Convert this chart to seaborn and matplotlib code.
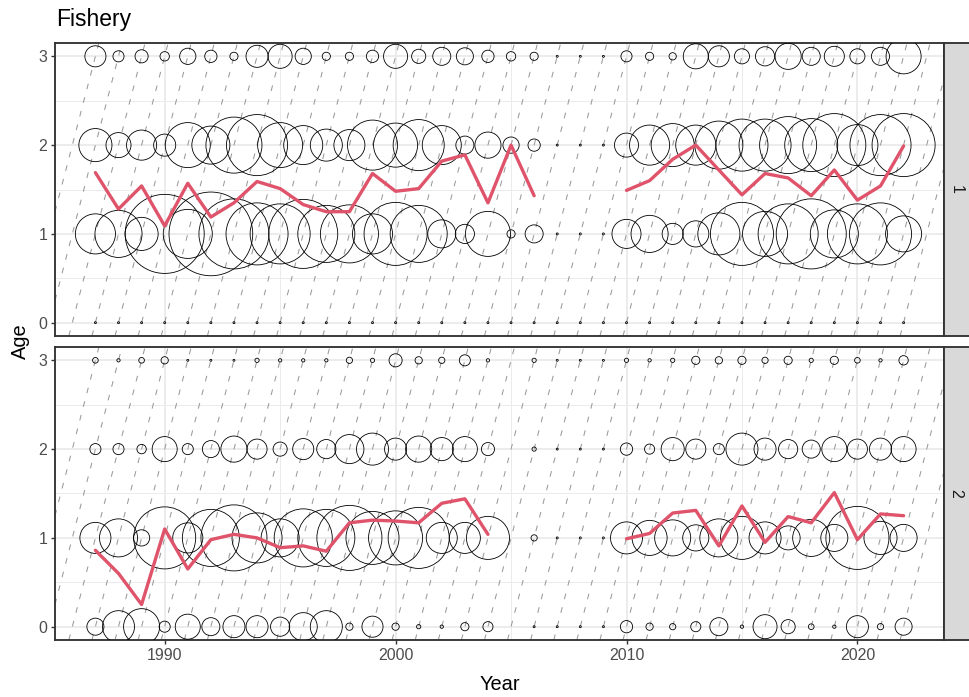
import numpy as np
import pandas as pd
import matplotlib
matplotlib.use("Agg")
import matplotlib.pyplot as plt
import seaborn as sns

sns.set_style("white")
plt.rcParams['font.family'] = ['Liberation Sans', 'DejaVu Sans']

nan = np.nan
years = list(range(1987, 2023))
ages = [0, 1, 2, 3]

# ---- Fleet 1: observed proportions at age (rows = age 0..3) ----
f1_age0 = [0.0] * 36
f1_age1 = [0.229, 0.316, 0.156, 0.892, 0.343, 1.000, 0.700, 0.549, 0.514, 0.680,
           0.464, 0.481, 0.229, 0.567, 0.464, 0.112, 0.052, 0.289, 0.009, 0.046,
           0, 0, 0,
           0.120, 0.196, 0.063, 0.097, 0.252, 0.567, 0.289, 0.514, 0.700, 0.329,
           0.514, 0.549, 0.185]
f1_age2 = [0.156, 0.089, 0.129, 0.069, 0.289, 0.206, 0.448, 0.532, 0.289, 0.217,
           0.146, 0.137, 0.357, 0.277, 0.372, 0.217, 0.046, 0.097, 0.037, 0.021,
           0, 0, 0,
           0.082, 0.229, 0.264, 0.229, 0.329, 0.386, 0.386, 0.464, 0.401, 0.567,
           0.240, 0.532, 0.567]
f1_age3 = [0.063, 0.017, 0.024, 0.012, 0.037, 0.021, 0.009, 0.069, 0.082, 0.037,
           0.009, 0.009, 0.021, 0.082, 0.028, 0.046, 0.041, 0.021, 0.012, 0.009,
           0, 0, 0,
           0.017, 0.009, 0.007, 0.089, 0.063, 0.032, 0.052, 0.097, 0.046, 0.057,
           0.032, 0.046, 0.175]
f1_mean = [1.69, 1.28, 1.54, 1.09, 1.57, 1.19, 1.35, 1.59, 1.51, 1.33,
           1.25, 1.25, 1.68, 1.48, 1.51, 1.82, 1.89, 1.35, 2.00, 1.43,
           nan, nan, nan,
           1.49, 1.60, 1.84, 2.00, 1.72, 1.44, 1.68, 1.63, 1.43, 1.72,
           1.38, 1.54, 1.99]

# ---- Fleet 2 ----
f2_age0 = [0.041, 0.146, 0.185, 0.017, 0.089, 0.046, 0.069, 0.069, 0.052, 0.112,
           0.146, 0.007, 0.063, 0.007, 0.002, 0.001, 0.009, 0.014, nan, 0.0,
           0, 0, 0,
           0.021, 0.007, 0.005, 0.014, 0.046, 0.001, 0.082, 0.028, 0.004, 0.001,
           0.069, 0.005, 0.041]
f2_age1 = [0.137, 0.206, 0.037, 0.549, 0.129, 0.464, 0.622, 0.357, 0.206, 0.481,
           0.464, 0.604, 0.401, 0.417, 0.532, 0.137, 0.137, 0.264, nan, 0.005,
           0, 0, 0,
           0.146, 0.175, 0.185, 0.097, 0.206, 0.264, 0.146, 0.082, 0.196, 0.104,
           0.567, 0.156, 0.104]
f2_age2 = [0.017, 0.017, 0.012, 0.089, 0.017, 0.041, 0.097, 0.057, 0.028, 0.063,
           0.052, 0.120, 0.146, 0.069, 0.097, 0.076, 0.089, 0.024, nan, 0.002,
           0, 0, 0,
           0.021, 0.014, 0.076, 0.057, 0.017, 0.146, 0.069, 0.052, 0.046, 0.089,
           0.057, 0.069, 0.089]
f2_age3 = [0.004, 0.001, 0.004, 0.007, 0, 0, 0, 0.002, 0.001, 0.001,
           0.001, 0.005, 0.002, 0.024, 0.007, 0.005, 0.017, 0.001, nan, 0.002,
           0, 0, 0,
           0.002, 0.001, 0.002, 0.009, 0.007, 0.009, 0.005, 0.009, 0.002, 0.009,
           0.004, 0.001, 0.012]
f2_mean = [0.86, 0.60, 0.25, 1.10, 0.65, 0.98, 1.04, 1.00, 0.89, 0.91,
           0.85, 1.17, 1.20, 1.19, 1.17, 1.39, 1.44, 1.04, nan, nan,
           nan, nan, nan,
           0.99, 1.05, 1.28, 1.31, 0.91, 1.36, 0.95, 1.24, 1.17, 1.51,
           0.98, 1.27, 1.25]

fleets = {1: ([f1_age0, f1_age1, f1_age2, f1_age3], f1_mean),
          2: ([f2_age0, f2_age1, f2_age2, f2_age3], f2_mean)}

rows = []
mrows = []
for fl, (agevals, means) in fleets.items():
    for a, vals in zip(ages, agevals):
        for y, v in zip(years, vals):
            if not np.isnan(v):
                rows.append(dict(Fleet=fl, Year=y, Age=a, prop=v))
    for y, m in zip(years, means):
        if not np.isnan(m):
            mrows.append(dict(Fleet=fl, Year=y, mean=m, block=int(y > 2008)))
df = pd.DataFrame(rows)
dm = pd.DataFrame(mrows)
cohorts = list(range(min(years) - max(ages), max(years) + 1))

W, H = 969, 697
fig = plt.figure(figsize=(W / 100, H / 100), dpi=100)

px_left, px_right = 55, 944
panels = {1: (43, 336), 2: (347, 640)}

border_col = '#333333'
for fl, (top, bot) in panels.items():
    ax = fig.add_axes([px_left / W, 1 - bot / H, (px_right - px_left) / W, (bot - top) / H])
    ax.set_xlim(1985.25, 2023.75)
    ax.set_ylim(-0.15, 3.15)
    ax.set_xticks([1990, 2000, 2010, 2020])
    ax.set_xticks([1985, 1995, 2005, 2015], minor=True)
    ax.set_yticks([0, 1, 2, 3])
    ax.set_yticks([0.5, 1.5, 2.5], minor=True)
    ax.grid(which='major', color='#EBEBEB', linewidth=1.35)
    ax.grid(which='minor', color='#EBEBEB', linewidth=0.7)
    ax.set_axisbelow(True)
    for s in ax.spines.values():
        s.set_color(border_col)
        s.set_linewidth(1.35)
    for c in cohorts:
        ax.axline((c, 0), slope=1, color='#9A9A9A', linewidth=0.75,
                  linestyle=(0, (5.5, 8)), zorder=1)
    sub = df[df.Fleet == fl]
    sns.scatterplot(data=sub, x='Year', y='Age', size='prop', sizes=(2, 3631),
                    size_norm=(0, 1), legend=False, marker='o',
                    facecolor='none', edgecolor='black', linewidth=0.6,
                    ax=ax, zorder=3)
    subm = dm[dm.Fleet == fl]
    sns.lineplot(data=subm, x='Year', y='mean', units='block', estimator=None,
                 color='#DF536B', linewidth=2.4, ax=ax, zorder=4, legend=False)
    ax.set_xlabel('')
    ax.set_ylabel('')
    ax.tick_params(axis='both', which='major', length=3, width=1.0, color=border_col,
                   labelsize=11.5, labelcolor='#4D4D4D', pad=2.5)
    ax.tick_params(axis='both', which='minor', length=0)
    ax.tick_params(axis='both', which='major', direction='out', left=True, bottom=(fl == 2))
    if fl == 1:
        ax.tick_params(axis='x', labelbottom=False, bottom=False)
    ax.set_xlim(1985.25, 2023.75)
    ax.set_ylim(-0.15, 3.15)

    # strip on the right
    sax = fig.add_axes([px_right / W, 1 - bot / H, 30 / W, (bot - top) / H])
    sax.set_facecolor('#D9D9D9')
    sax.set_xticks([])
    sax.set_yticks([])
    for s in sax.spines.values():
        s.set_color(border_col)
        s.set_linewidth(1.35)
    sax.text(12 / 30, 0.5, str(fl), rotation=-90, ha='center', va='center',
             fontsize=11.5, color='#1A1A1A', transform=sax.transAxes)

fig.text(56 / W, 1 - 26 / H, 'Fishery', fontsize=16.5, color='black',
         ha='left', va='baseline')
fig.text((px_left + px_right) / 2 / W, 1 - 690 / H, 'Year', fontsize=14.4,
         color='black', ha='center', va='baseline')
fig.text(20 / W, 1 - 341.5 / H, 'Age', fontsize=14.4, color='black',
         ha='center', va='center', rotation=90)

fig.savefig('out.png', dpi=100)
